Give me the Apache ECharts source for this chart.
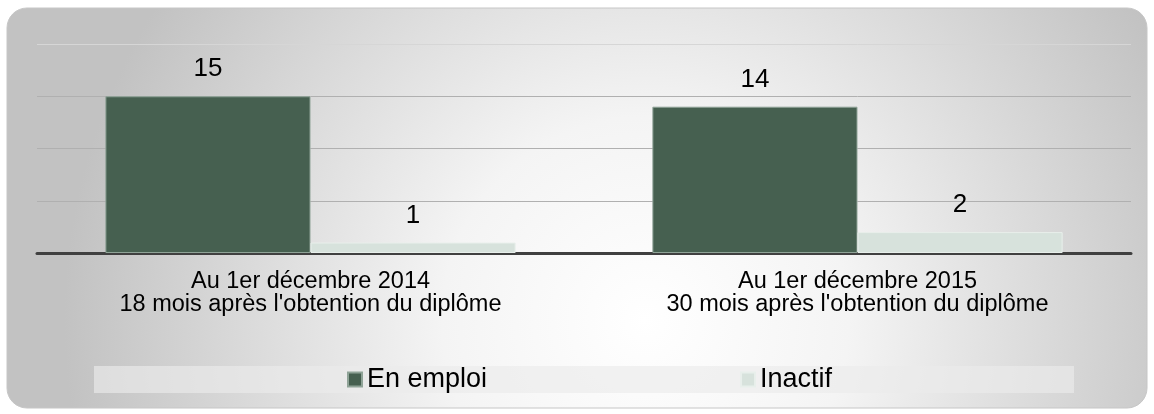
<!DOCTYPE html>
<html>
<head>
<meta charset="utf-8">
<script src="https://cdn.jsdelivr.net/npm/echarts@6/dist/echarts.min.js"></script>
<style>
  html, body { margin: 0; padding: 0; background: #ffffff; }
  #chart { width: 1154px; height: 414px; }
</style>
</head>
<body>
<div id="chart"></div>
<script>
  const categories = [
    'Au 1er décembre 2014\n18 mois après l\'obtention du diplôme',
    'Au 1er décembre 2015\n30 mois après l\'obtention du diplôme'
  ]
  const seriesNames = ['En emploi', 'Inactif']
  const enEmploi = [15, 14]
  const inactif = [1, 2]

  const chart = echarts.init(document.getElementById('chart'))

  const font = '"Liberation Sans", Arial, sans-serif'

  chart.setOption({
    animation: false,
    textStyle: { fontFamily: font },
    graphic: [
      {
        type: 'rect',
        z: -10,
        shape: { x: 7, y: 8, width: 1140, height: 400, r: 20 },
        style: {
          fill: new echarts.graphic.RadialGradient(0.56, 0.78, 1.45, [
            { offset: 0, color: '#ffffff' },
            { offset: 0.35, color: '#f4f4f4' },
            { offset: 1, color: '#c2c2c2' }
          ]),
          stroke: '#c6c6c6',
          lineWidth: 1
        }
      },
      {
        type: 'rect',
        z: -9,
        shape: { x: 94, y: 366, width: 980, height: 27 },
        style: { fill: 'rgba(235,235,235,0.65)' }
      }
    ],
    grid: {
      left: 37,
      right: 23,
      top: 44,
      bottom: 161
    },
    legend: {
      data: seriesNames,
      top: 366,
      left: 347,
      padding: 0,
      itemWidth: 14,
      itemHeight: 14,
      itemGap: 253,
      icon: 'rect',
      textStyle: { fontSize: 27, color: '#000000', fontFamily: font }
    },
    xAxis: {
      type: 'category',
      data: categories,
      axisTick: { show: false },
      axisLine: { lineStyle: { color: '#404040', width: 3 } },
      axisLabel: {
        color: '#000000',
        fontSize: 23.5,
        lineHeight: 23,
        margin: 17,
        fontFamily: font
      }
    },
    yAxis: {
      type: 'value',
      min: 0,
      max: 20,
      interval: 5,
      axisLabel: { show: false },
      axisLine: { show: false },
      axisTick: { show: false },
      splitLine: {
        lineStyle: {
          color: ['#b0b0b0', '#b0b0b0', '#b0b0b0', '#b0b0b0', '#d6d6d6'],
          width: 1
        }
      }
    },
    series: [
      {
        name: seriesNames[0],
        type: 'bar',
        data: enEmploi,
        barGap: '0%',
        barCategoryGap: '25%',
        itemStyle: { color: '#466050', borderColor: '#8fa397', borderWidth: 1 },
        label: {
          show: true,
          position: 'top',
          distance: 14,
          fontSize: 26,
          color: '#000000',
          fontFamily: font
        }
      },
      {
        name: seriesNames[1],
        type: 'bar',
        data: inactif,
        barGap: '0%',
        barCategoryGap: '25%',
        itemStyle: { color: '#d7e2dc', borderColor: '#e8efeb', borderWidth: 1 },
        label: {
          show: true,
          position: 'top',
          distance: 14,
          fontSize: 26,
          color: '#000000',
          fontFamily: font
        }
      }
    ]
  })
</script>
</body>
</html>
